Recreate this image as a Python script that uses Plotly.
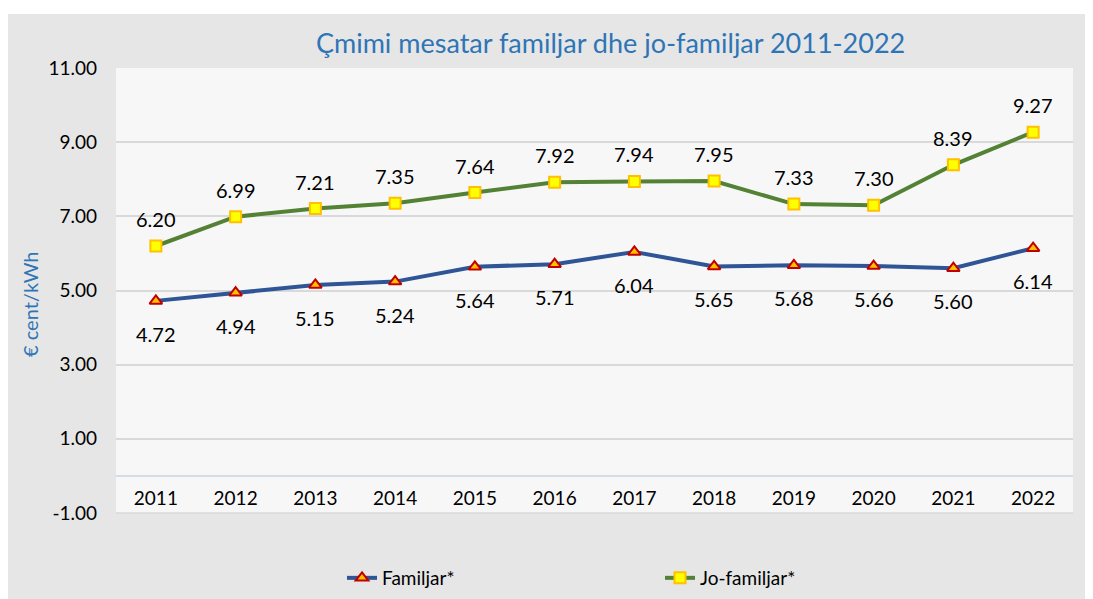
import plotly.graph_objects as go

years = ["2011", "2012", "2013", "2014", "2015", "2016", "2017", "2018", "2019", "2020", "2021", "2022"]
familjar = [4.72, 4.94, 5.15, 5.24, 5.64, 5.71, 6.04, 5.65, 5.68, 5.66, 5.60, 6.14]
jo_familjar = [6.20, 6.99, 7.21, 7.35, 7.64, 7.92, 7.94, 7.95, 7.33, 7.30, 8.39, 9.27]
y_ticks = [-1, 1, 3, 5, 7, 9, 11]

FONT = "Lato"
OFF = 8  # page body margin
W, H = 1093, 599 - OFF
ML, MR, MT, MB = 108, 28, 60, 86
PW, PH = W - ML - MR, H - MT - MB


def px_x(p):
    return (p - OFF - ML) / PW


def px_y(p):
    return (H - MB - (p - OFF)) / PH


fig = go.Figure()
fig.add_trace(go.Scatter(
    x=years, y=familjar, name="Familjar*", mode="lines+markers",
    line=dict(color="#2F5597", width=4),
    marker=dict(symbol="triangle-up", size=11, color="#FFC000",
                line=dict(color="#C00000", width=2)),
))
fig.add_trace(go.Scatter(
    x=years, y=jo_familjar, name="Jo-familjar*", mode="lines+markers",
    line=dict(color="#548235", width=4),
    marker=dict(symbol="square", size=11, color="#FFFF00",
                line=dict(color="#FFC000", width=2)),
))

annotations = []
for i, v in enumerate(familjar):
    annotations.append(dict(x=i, y=v, xref="x", yref="y", text=f"{v:.2f}",
                            showarrow=False, yshift=-33,
                            font=dict(family=FONT, size=20, color="#000000")))
for i, v in enumerate(jo_familjar):
    annotations.append(dict(x=i, y=v, xref="x", yref="y", text=f"{v:.2f}",
                            showarrow=False, yshift=27,
                            font=dict(family=FONT, size=20, color="#000000")))

annotations.append(dict(x=px_x(610), y=px_y(42), xref="paper", yref="paper",
                        text="Çmimi mesatar familjar dhe jo-familjar 2011-2022",
                        showarrow=False, xanchor="center", yanchor="middle",
                        font=dict(family=FONT, size=27, color="#2E75B6")))
annotations.append(dict(x=px_x(30), y=px_y(305), xref="paper", yref="paper",
                        text="€ cent/kWh", textangle=-90, showarrow=False,
                        xanchor="center", yanchor="middle",
                        font=dict(family=FONT, size=20, color="#2E75B6")))

shapes = [
    # white page strip above the chart area
    dict(type="rect", xref="paper", yref="paper", x0=px_x(-5), x1=px_x(1110),
         y0=px_y(14), y1=px_y(-5), fillcolor="white", line=dict(width=0), layer="below"),
    # plot area bottom border
    dict(type="line", xref="paper", yref="paper", x0=0, x1=1, y0=0, y1=0,
         line=dict(color="#D9D9D9", width=1.5)),
]

fig.update_layout(
    width=W, height=H,
    margin=dict(l=ML, r=MR, t=MT, b=MB, autoexpand=False),
    paper_bgcolor="#E6E6E6",
    plot_bgcolor="#F7F7F7",
    font=dict(family=FONT, size=18, color="#000000"),
    showlegend=True,
    legend=dict(orientation="h", x=px_x(342), y=px_y(578), xanchor="left", yanchor="middle",
                font=dict(family=FONT, size=19, color="#000000"),
                bgcolor="rgba(0,0,0,0)", entrywidth=273, entrywidthmode="pixels"),
    annotations=annotations,
    shapes=shapes,
)

fig.update_xaxes(
    type="category", range=[-0.5, 11.5], anchor="free", position=1 / 12,
    showgrid=False, showline=True, linecolor="#D6DCE5", linewidth=1.5,
    ticks="", ticklabelstandoff=6, tickfont=dict(family=FONT, size=19, color="#000000"),
    zeroline=False,
)
fig.update_yaxes(
    range=[-1, 11], tickvals=y_ticks, ticktext=[f"{v:.2f}" for v in y_ticks],
    showgrid=True, gridcolor="#D9D9D9", gridwidth=1.5, zeroline=False,
    showline=False, ticks="", ticklabelstandoff=18,
    tickfont=dict(family=FONT, size=19, color="#000000"),
)

fig.write_html("out.html")
